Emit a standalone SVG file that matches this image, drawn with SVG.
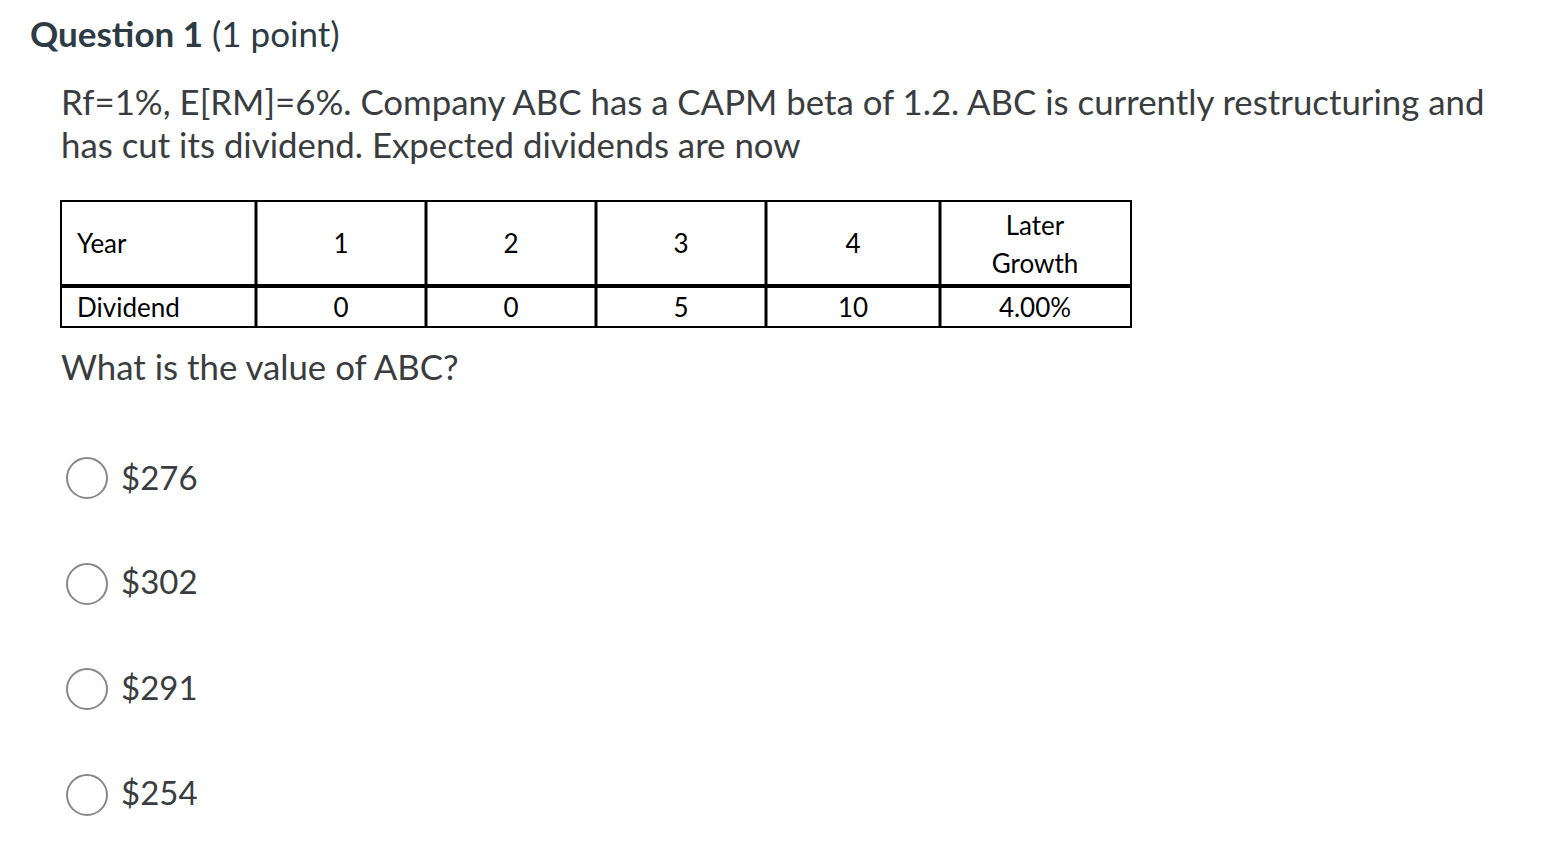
<svg xmlns="http://www.w3.org/2000/svg" width="1560" height="850" viewBox="0 0 1560 850">
<style>
.t{font-family:Lato,"Open Sans",sans-serif;fill:#2d3b45}
.b{font-family:Lato,"Open Sans",sans-serif;fill:#3a3d40;font-size:34.8px}
.a{font-family:Lato,"Open Sans",sans-serif;fill:#3a3d40;font-size:33px}
.c{font-family:Lato,"Liberation Sans",sans-serif;fill:#000;font-size:26px}
.m{text-anchor:middle}
.r{fill:#fff;stroke:#888;stroke-width:2}
</style>
<rect width="1560" height="850" fill="#fff"/>
<text class="t" x="30" y="47" font-size="35"><tspan font-weight="bold">Question 1</tspan> (1 point)</text>
<text class="b" x="61" y="115">Rf=1%, E[RM]=6%. Company ABC has a CAPM beta of 1.2. ABC is currently restructuring and</text>
<text class="b" x="61" y="158">has cut its dividend. Expected dividends are now</text>
<g fill="none" stroke="#000">
<rect x="61" y="201" width="1070" height="126" stroke-width="2"/>
<line x1="61" y1="286" x2="1131" y2="286" stroke-width="4"/>
<g stroke-width="3">
<line x1="256" y1="201" x2="256" y2="327"/>
<line x1="426" y1="201" x2="426" y2="327"/>
<line x1="596" y1="201" x2="596" y2="327"/>
<line x1="766" y1="201" x2="766" y2="327"/>
<line x1="940" y1="201" x2="940" y2="327"/>
</g>
</g>
<text class="c" x="77" y="253">Year</text>
<text class="c m" x="341" y="253">1</text>
<text class="c m" x="511" y="253">2</text>
<text class="c m" x="681" y="253">3</text>
<text class="c m" x="853" y="253">4</text>
<text class="c m" x="1035" y="235">Later</text>
<text class="c m" x="1035" y="273">Growth</text>
<text class="c" x="77" y="317">Dividend</text>
<text class="c m" x="341" y="317">0</text>
<text class="c m" x="511" y="317">0</text>
<text class="c m" x="681" y="317">5</text>
<text class="c m" x="853" y="317">10</text>
<text class="c m" x="1035" y="317">4.00%</text>
<text class="b" x="61" y="380">What is the value of ABC?</text>
<circle class="r" cx="87" cy="478" r="20"/><text class="a" x="121" y="490">$276</text>
<circle class="r" cx="87" cy="584" r="20"/><text class="a" x="121" y="594">$302</text>
<circle class="r" cx="87" cy="689" r="20"/><text class="a" x="121" y="700">$291</text>
<circle class="r" cx="87" cy="795" r="20"/><text class="a" x="121" y="805">$254</text>
</svg>
